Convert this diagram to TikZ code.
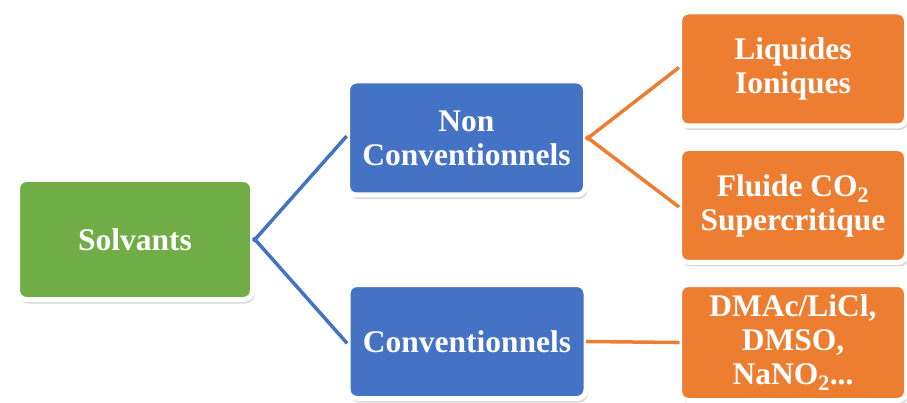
\documentclass[tikz,border=0pt]{standalone}
\usepackage{fontspec}
\setmainfont{Liberation Serif}
\usetikzlibrary{shadows}
\definecolor{cgreen}{HTML}{70AD47}
\definecolor{cblue}{HTML}{4472C4}
\definecolor{corange}{HTML}{ED7D31}
\tikzset{
  boxbase/.style={draw=white, line width=5pt, rounded corners=9pt, inner sep=0pt,
    align=center, text=white, font=\fontsize{31.5}{34}\selectfont\bfseries,
    drop shadow={opacity=0.3, shadow xshift=2pt, shadow yshift=-4pt}},
  greenbox/.style={boxbase, fill=cgreen, minimum width=235pt, minimum height=120pt},
  bluebox/.style={boxbase, fill=cblue, minimum width=238pt, minimum height=114pt},
  orangebox/.style={boxbase, fill=corange, minimum width=227pt, minimum height=114pt},
  linkbase/.style={line width=3.5pt, shorten <=-2.5pt, shorten >=-2.5pt},
  blueline/.style={linkbase, draw=cblue},
  orangeline/.style={linkbase, draw=corange},
}
\begin{document}
\begin{tikzpicture}[x=1pt, y=-1pt]
\useasboundingbox[fill=white] (0,0) rectangle (907,403);
% nodes
\node[greenbox] (solv) at (135,239.5) {Solvants};
\node[bluebox] (nonconv) at (466.5,138) {Non\\Conventionnels};
\node[bluebox] (conv) at (467,341.5) {Conventionnels};
\node[orangebox] (liq) at (793,69) {Liquides\\Ioniques};
\node[orangebox] (flu) at (793,205.5) {Fluide CO\textsubscript{2}\\Supercritique};
\node[orangebox, minimum height=116pt] (dmac) at (793,342.5) {DMAc/LiCl,\\DMSO,\\NaNO\textsubscript{2}...};
% connectors
\draw[blueline] (solv.east) -- (nonconv.west);
\draw[blueline] (solv.east) -- (conv.west);
\draw[orangeline] (nonconv.east) -- (liq.west);
\draw[orangeline] (nonconv.east) -- (flu.west);
\draw[orangeline] (conv.east) -- (dmac.west);
\end{tikzpicture}
\end{document}
